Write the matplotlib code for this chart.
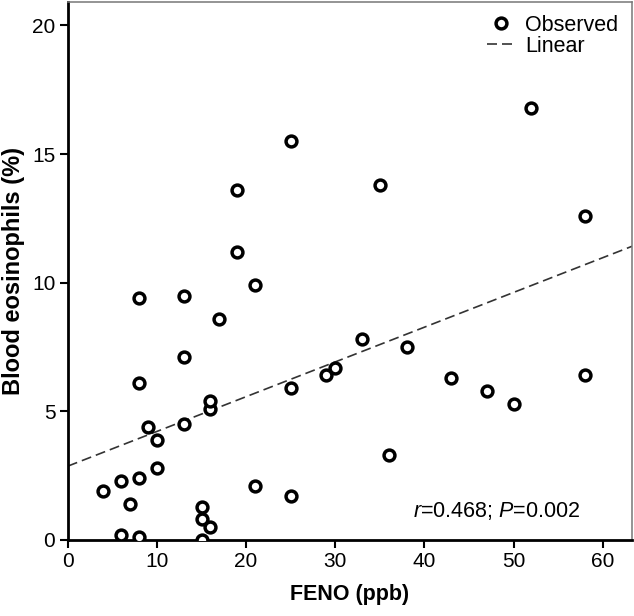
import numpy as np
import matplotlib
matplotlib.use("Agg")
import matplotlib.pyplot as plt

plt.rcParams['font.family'] = ['Liberation Sans', 'DejaVu Sans']
plt.rcParams['mathtext.fontset'] = 'custom'
plt.rcParams['mathtext.rm'] = 'Liberation Sans'
plt.rcParams['mathtext.it'] = 'Liberation Sans:italic'

# FENO (ppb) and blood eosinophils (%)
feno = [4, 6, 6, 7, 8, 8, 8, 8, 9, 10, 10, 13, 13, 13, 15, 15, 15, 16, 16, 16,
        17, 19, 19, 21, 21, 25, 25, 25, 29, 30, 33, 35, 36, 38, 43, 47, 50, 52, 58, 58]
eos = [1.9, 2.3, 0.2, 1.4, 2.4, 0.1, 6.1, 9.4, 4.4, 3.9, 2.8, 9.5, 7.1, 4.5, 1.3, 0.8, 0.0, 0.5, 5.1, 5.4,
       8.6, 11.2, 13.6, 9.9, 2.1, 15.5, 5.9, 1.7, 6.4, 6.7, 7.8, 13.8, 3.3, 7.5, 6.3, 5.8, 5.3, 16.8, 12.6, 6.4]

# linear fit as drawn
fit_intercept = 2.87
fit_slope = 0.135

xticks = [0, 10, 20, 30, 40, 50, 60]
yticks = [0, 5, 10, 15, 20]

fig = plt.figure(figsize=(6.34, 6.16), dpi=100)
ax = fig.add_axes([0.107, 0.1234, 0.890, 0.873])

ax.plot(feno, eos, linestyle='none', marker='o', markersize=7.8,
        markerfacecolor='white', markeredgecolor='black', markeredgewidth=2.5,
        label='Observed', zorder=3)

xs = np.array([0, 63.3])
ax.plot(xs, fit_intercept + fit_slope * xs, color='#333333', linestyle=(0, (6, 3)),
        linewidth=1.2, label='Linear', zorder=2)

ax.set_xlim(0, 63.3)
ax.set_ylim(0, 20.9)
ax.set_xticks(xticks)
ax.set_yticks(yticks)
ax.tick_params(labelsize=15, length=6, width=1.5, direction='out', pad=3)

for s in ['left', 'bottom']:
    ax.spines[s].set_linewidth(2)
    ax.spines[s].set_color('black')
for s in ['top', 'right']:
    ax.spines[s].set_linewidth(1.1)
    ax.spines[s].set_color('#777777')

ax.set_xlabel('FENO (ppb)', fontsize=15.5, fontweight='bold', labelpad=9)
ax.set_ylabel('Blood eosinophils (%)', fontsize=17, fontweight='bold', labelpad=5)

ax.legend(loc='upper right', bbox_to_anchor=(0.983, 0.985), frameon=False,
          fontsize=15.5, handlelength=1.3, handletextpad=0.45,
          borderaxespad=0.0, borderpad=0.2, labelspacing=0.0)

ax.text(0.908, 0.033, r'$\it{r}$=0.468; $\it{P}$=0.002', transform=ax.transAxes,
        ha='right', va='bottom', fontsize=15.5)

fig.savefig('out.png', dpi=100)
